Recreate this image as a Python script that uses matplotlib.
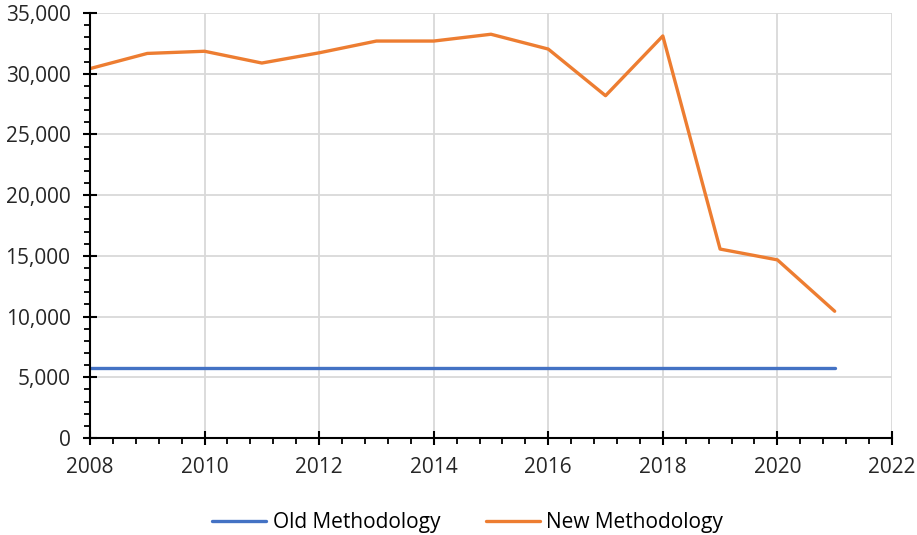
"""
Old vs new methodology line chart, 2008-2021.
"""

import matplotlib
import matplotlib.pyplot as plt
from matplotlib.ticker import FuncFormatter, MultipleLocator

matplotlib.use("Agg")

# ── data ──────────────────────────────────────────────────────────
years = [2008, 2009, 2010, 2011, 2012, 2013, 2014,
         2015, 2016, 2017, 2018, 2019, 2020, 2021]
old_method = [5800] * len(years)
new_method = [30420, 31670, 31850, 30880, 31720, 32690, 32690,
              33250, 32030, 28190, 33110, 15560, 14670, 10440]

series_labels = ["Old Methodology", "New Methodology"]
colors = ["#4472C4", "#ED7D31"]

plt.rcParams["font.family"] = ["Open Sans", "DejaVu Sans"]

# ── figure ────────────────────────────────────────────────────────
fig = plt.figure(figsize=(9.17, 5.35), dpi=100)
ax = fig.add_axes([0.0981, 0.1813, 0.8746, 0.7944])

ax.plot(years, old_method, color=colors[0], lw=2.4,
        solid_capstyle="round", label=series_labels[0])
ax.plot(years, new_method, color=colors[1], lw=2.4,
        solid_capstyle="round", label=series_labels[1])

ax.set_xlim(2008, 2022)
ax.set_ylim(0, 35000)
ax.xaxis.set_major_locator(MultipleLocator(2))
ax.xaxis.set_minor_locator(MultipleLocator(0.4))
ax.yaxis.set_major_locator(MultipleLocator(5000))
ax.yaxis.set_minor_locator(MultipleLocator(1000))
ax.yaxis.set_major_formatter(FuncFormatter(lambda v, _: f"{int(v):,}"))

ax.grid(True, which="major", color="#d9d9d9", lw=1.3)
ax.set_axisbelow(True)
for side in ("top", "right"):
    ax.spines[side].set_visible(False)
for side in ("left", "bottom"):
    ax.spines[side].set_linewidth(1.5)
    ax.spines[side].set_zorder(3)

ax.tick_params(which="major", direction="inout", length=10, width=1.5,
               labelsize=15, colors="black")
ax.tick_params(axis="y", which="major", pad=9)
ax.tick_params(axis="x", which="major", pad=9)
ax.tick_params(which="minor", direction="out", length=4, width=1.3)
for lab in ax.get_xticklabels() + ax.get_yticklabels():
    lab.set_color("#262626")

ax.legend(loc="upper center", bbox_to_anchor=(0.471, -0.13), ncol=2,
          frameon=False, fontsize=15, handlelength=2.6, handletextpad=0.3,
          columnspacing=2.2)

fig.savefig("out.png", dpi=100, facecolor="white")
plt.close(fig)
